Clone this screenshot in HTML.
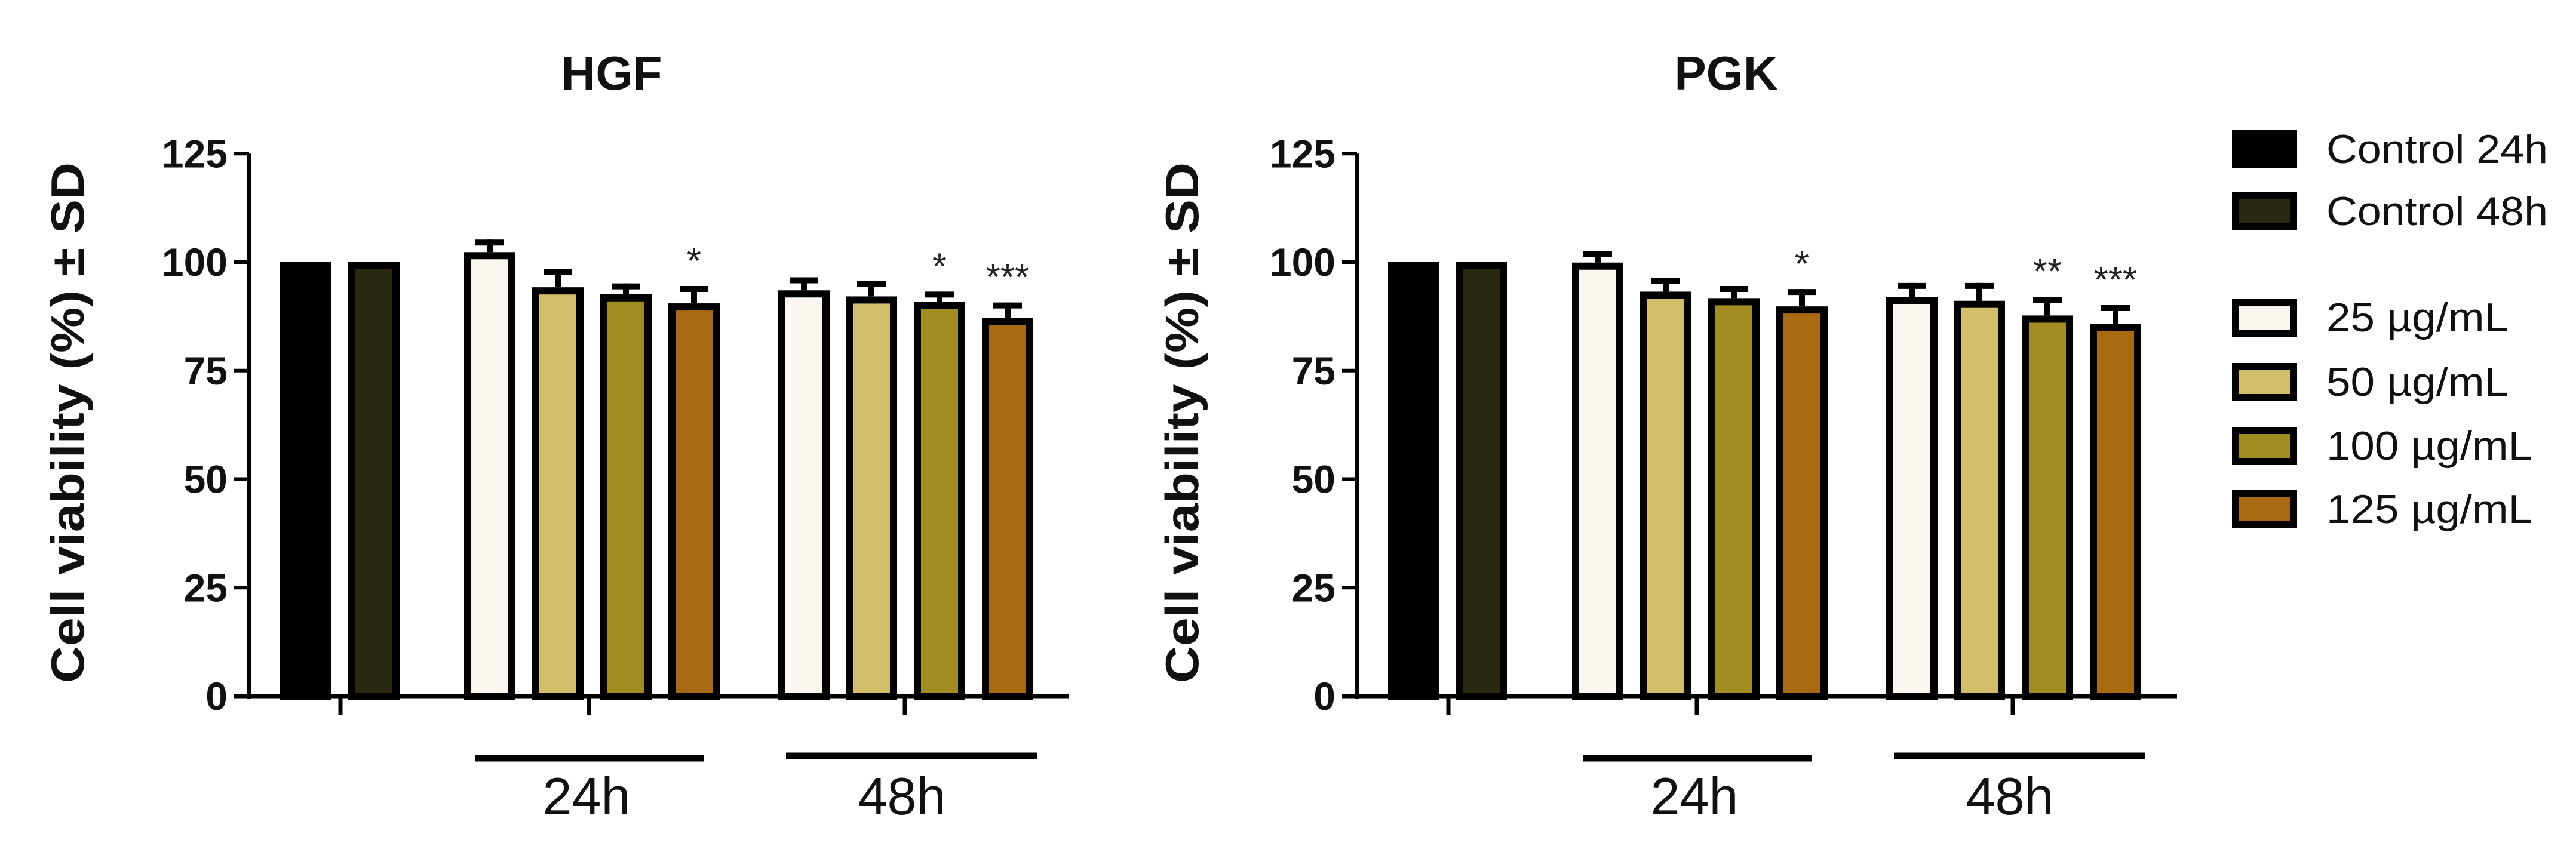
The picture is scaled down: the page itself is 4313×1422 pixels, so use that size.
<!DOCTYPE html>
<html><head><meta charset="utf-8"><style>
html,body{margin:0;padding:0;background:#fff;}
svg{display:block;font-family:"Liberation Sans",Arial,sans-serif;}
</style></head><body>
<svg id="chart" width="4313" height="1422" viewBox="0 0 4313 1422" xmlns="http://www.w3.org/2000/svg">
<g id="legend"></g>
</svg>
<script>
const panels = ["HGF", "PGK"];
const seriesNames = ["Control 24h", "Control 48h", "25 µg/mL", "50 µg/mL", "100 µg/mL", "125 µg/mL"];
const fills = ["#000000", "#2a2810", "#fbf6ef", "#d2bd6a", "#a08c20", "#a86a10"];
const yTicks = [0, 25, 50, 75, 100, 125];
const groupLabels = ["24h", "48h"];
const hgfControl = [100, 100];
const hgf24 = [102.3, 94.2, 92.6, 90.5];
const hgf24Err = [105.2, 98.4, 95.1, 94.5];
const hgf48 = [93.5, 92.1, 90.8, 87.1];
const hgf48Err = [96.5, 95.6, 93.2, 90.7];
const hgfStars24 = ["", "", "", "*"];
const hgfStars48 = ["", "", "*", "***"];
const pgkControl = [100, 100];
const pgk24 = [99.9, 93.2, 91.7, 89.8];
const pgk24Err = [102.6, 96.4, 94.5, 93.8];
const pgk48 = [92.0, 91.1, 87.7, 85.7];
const pgk48Err = [95.2, 95.2, 92.0, 90.1];
const pgkStars24 = ["", "", "", "*"];
const pgkStars48 = ["", "", "**", "***"];

const NS = "http://www.w3.org/2000/svg";
const svg = document.getElementById("chart");
function mk(tag, attrs, parent) {
  const e = document.createElementNS(NS, tag);
  for (const k in attrs) e.setAttribute(k, attrs[k]);
  (parent || svg).appendChild(e);
  return e;
}
const Y0 = 1166, UNIT = 7.27;
function yScale(v) { return Y0 - v * UNIT; }

function drawPanel(pi, ctrl, g24, e24, s24, g48, e48, s48) {
  const off = pi * 1855;
  const ax = 417 + off;
  const g = mk("g", {});
  
  
  const t = mk("text", {x: pi ? 2890 : 1024, y: 150, "font-size": 80, "font-weight": "bold", "text-anchor": "middle", fill: "#111"}, g);
  t.textContent = panels[pi];
  
  
  const yt = mk("text", {transform: `translate(${(pi ? 1978 : 112) + 28},708) rotate(-90)`, "font-size": 78, "font-weight": "bold", "text-anchor": "middle", textLength: 872, lengthAdjust: "spacingAndGlyphs", fill: "#111", "xml:space": "preserve"}, g);
  yt.textContent = "Cell viability (%)   ±  SD";
  
  
  const ya = mk("line", {x1: ax, x2: ax, y1: yScale(125), y2: Y0 + 4, stroke: "#000", "stroke-width": 8}, g);
  
  
  const xa = mk("line", {x1: ax - 25, x2: 1790 + off, y1: Y0, y2: Y0, stroke: "#000", "stroke-width": 7}, g);
  
  
  yTicks.forEach(v => {
    const tk = mk("line", {x1: ax - 25, x2: ax, y1: yScale(v), y2: yScale(v), stroke: "#000", "stroke-width": 6}, g);
    
    
    const tl = mk("text", {x: ax - 36, y: yScale(v) + 23, "font-size": 66, "font-weight": "bold", "text-anchor": "end", fill: "#111"}, g);
    tl.textContent = v;
    
    
  });
  [570, 986, 1515].forEach(x => {
    const tk = mk("line", {x1: x + off, x2: x + off, y1: Y0, y2: Y0 + 32, stroke: "#000", "stroke-width": 7}, g);
    
    
  });
  [[795, 1178, 1270, 982], [1316, 1737, 1266, 1510]].forEach((gl, i) => {
    const l = mk("line", {x1: gl[0] + off, x2: gl[1] + off, y1: gl[2], y2: gl[2], stroke: "#000", "stroke-width": 11}, g);
    
    
    const tx = mk("text", {x: gl[3] + off, y: 1364, "font-size": 88, "text-anchor": "middle", fill: "#111"}, g);
    tx.textContent = groupLabels[i];
    
    
  });
  const W = 86, SW = 12;
  function bar(cx, v, fill, name) {
    const r = mk("rect", {x: cx - W / 2 + SW / 2, y: yScale(v) + SW / 2, width: W - SW, height: Y0 - yScale(v) - SW / 2, fill: fill, stroke: "#000", "stroke-width": SW}, g);
    
    
  }
  function err(cx, v, e) {
    const s = mk("line", {x1: cx, x2: cx, y1: yScale(v), y2: yScale(e), stroke: "#000", "stroke-width": 10}, g);
    
    
    const c = mk("line", {x1: cx - 24, x2: cx + 24, y1: yScale(e) + 5, y2: yScale(e) + 5, stroke: "#000", "stroke-width": 10}, g);
    
    
  }
  function star(cx, e, s) {
    if (!s) return;
    const st = mk("text", {x: cx, y: yScale(e) - 53 + 32, "font-size": 62, "text-anchor": "middle", fill: "#222"}, g);
    st.textContent = s;
    
    
  }
  const ctrlX = [512, 626];
  ctrl.forEach((v, i) => bar(ctrlX[i] + off, v, fills[i], 'bar-control-' + (i ? '48h' : '24h')));
  const c24 = [820, 934, 1048, 1162], c48 = [1346, 1459, 1573, 1687];
  g24.forEach((v, i) => { const cx = c24[i] + off; err(cx, v, e24[i]); bar(cx, v, fills[i + 2], 'bar-24h-' + i); star(cx, e24[i], s24[i]); });
  g48.forEach((v, i) => { const cx = c48[i] + off; err(cx, v, e48[i]); bar(cx, v, fills[i + 2], 'bar-48h-' + i); star(cx, e48[i], s48[i]); });
}
drawPanel(0, hgfControl, hgf24, hgf24Err, hgfStars24, hgf48, hgf48Err, hgfStars48);
drawPanel(1, pgkControl, pgk24, pgk24Err, pgkStars24, pgk48, pgk48Err, pgkStars48);

const lg = document.getElementById("legend");
const boxTops = [218, 322, 500, 608, 715, 821];
seriesNames.forEach((n, i) => {
  const r = mk("rect", {x: 3743, y: boxTops[i] + 6, width: 97, height: 52, fill: fills[i], stroke: "#000", "stroke-width": 12}, lg);
  
  
  const t = mk("text", {x: 3895, y: boxTops[i] + 55, "font-size": 68, fill: "#111", textLength: n.startsWith("Control") ? 371 : (n.startsWith("25") || n.startsWith("50") ? 305 : 345), lengthAdjust: "spacingAndGlyphs"}, lg);
  t.textContent = n;
  
  
});
</script>
</body></html>
